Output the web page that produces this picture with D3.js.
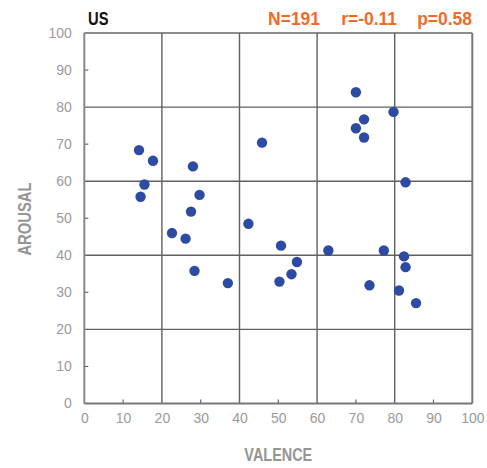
<!DOCTYPE html>
<html>
<head>
<meta charset="utf-8">
<script src="https://cdn.jsdelivr.net/npm/d3@7"></script>
<style>
  html, body { margin: 0; padding: 0; background: #fff; }
  svg { display: block; }
</style>
</head>
<body>
<svg id="chart" width="487" height="468"></svg>
<script>
// Valence / arousal ratings, US sample
const valence = [14.1, 17.7, 28.0, 15.5, 14.5, 29.7, 27.5, 22.6, 26.1, 28.4, 37.0,
                 45.8, 42.3, 50.7, 54.8, 53.4, 50.3, 62.9,
                 70.0, 79.7, 72.1, 70.0, 72.1, 82.8, 77.2, 82.4, 82.8, 73.5, 81.1, 85.5];
const arousal = [68.4, 65.5, 64.0, 59.1, 55.8, 56.3, 51.8, 46.0, 44.5, 35.8, 32.5,
                 70.4, 48.5, 42.6, 38.2, 34.9, 32.9, 41.3,
                 84.0, 78.7, 76.7, 74.3, 71.8, 59.7, 41.3, 39.7, 36.8, 31.9, 30.5, 27.1];
const majorTicks = [0, 10, 20, 30, 40, 50, 60, 70, 80, 90, 100];
const gridTicks = [20, 40, 60, 80];
const minorTicks = [10, 30, 50, 70, 90];
const titleText = "US";
const statsText = ["N=191", "r=-0.11", "p=0.58"];

const svg = d3.select("#chart");
const mLeft = 84.3, mRight = 472.3, mTop = 33, mBottom = 403.5;

const x = d3.scaleLinear().domain([0, 100]).range([mLeft, mRight]);
const y = d3.scaleLinear().domain([0, 100]).range([mBottom, mTop]);

const font = "'Liberation Sans', Arial, sans-serif";

// grid lines
const g = svg.append("g");
g.selectAll(".gx").data(gridTicks).enter().append("line")
  .attr("x1", d => x(d)).attr("x2", d => x(d))
  .attr("y1", mTop).attr("y2", mBottom)
  .attr("stroke", "#606060").attr("stroke-width", 1.4);
g.selectAll(".gy").data(gridTicks).enter().append("line")
  .attr("y1", d => y(d)).attr("y2", d => y(d))
  .attr("x1", mLeft).attr("x2", mRight)
  .attr("stroke", "#606060").attr("stroke-width", 1.4);

// minor inward ticks
g.selectAll(".mx").data(minorTicks).enter().append("line")
  .attr("x1", d => x(d)).attr("x2", d => x(d))
  .attr("y1", mBottom).attr("y2", mBottom - 4)
  .attr("stroke", "#666").attr("stroke-width", 1.2);
g.selectAll(".my").data(minorTicks).enter().append("line")
  .attr("y1", d => y(d)).attr("y2", d => y(d))
  .attr("x1", mLeft).attr("x2", mLeft + 4)
  .attr("stroke", "#666").attr("stroke-width", 1.2);

// frame
svg.append("line").attr("x1", mLeft).attr("x2", mRight).attr("y1", mTop).attr("y2", mTop)
  .attr("stroke", "#666").attr("stroke-width", 1.5);
svg.append("line").attr("x1", mRight).attr("x2", mRight).attr("y1", mTop).attr("y2", mBottom)
  .attr("stroke", "#777").attr("stroke-width", 2);
svg.append("line").attr("x1", mLeft).attr("x2", mLeft).attr("y1", mTop).attr("y2", mBottom)
  .attr("stroke", "#888").attr("stroke-width", 2);
svg.append("line").attr("x1", mLeft).attr("x2", mRight).attr("y1", mBottom).attr("y2", mBottom)
  .attr("stroke", "#777").attr("stroke-width", 2);

// axes labels
const xAxis = d3.axisBottom(x).tickValues(majorTicks).tickSize(0).tickPadding(10);
const yAxis = d3.axisLeft(y).tickValues(majorTicks).tickSize(0).tickPadding(12.5);
const gx = svg.append("g").attr("transform", `translate(0,${mBottom})`).call(xAxis);
const gy = svg.append("g").attr("transform", `translate(${mLeft},0)`).call(yAxis);
[gx, gy].forEach(a => {
  a.select(".domain").remove();
  a.selectAll("text").attr("fill", "#9a9a9a")
    .attr("font-family", font)
    .attr("font-size", 14);
});

// points
svg.append("g").selectAll("circle").data(valence).enter().append("circle")
  .attr("cx", d => x(d))
  .attr("cy", (d, i) => y(arousal[i]))
  .attr("r", 5.2)
  .attr("fill", "#2d4ba3");

// condensed bold label helper
function label(tx, ty, rot, sx, anchor, size, color, str) {
  return svg.append("text")
    .attr("transform", `translate(${tx},${ty}) rotate(${rot}) scale(${sx},1)`)
    .attr("text-anchor", anchor)
    .attr("fill", color)
    .attr("font-family", font).attr("font-weight", "bold")
    .attr("font-size", size)
    .text(str);
}

label(88, 25, 0, 0.82, "start", 18, "#111", titleText);

const statX = [320, 397, 472];
statsText.forEach((s, i) => label(statX[i], 24.5, 0, 0.97, "end", 18, "#f26a2b", s));

label((mLeft + mRight) / 2, 461, 0, 0.76, "middle", 19, "#959595", "VALENCE");
label(31, 219, -90, 0.78, "middle", 19, "#959595", "AROUSAL");
</script>
</body>
</html>
